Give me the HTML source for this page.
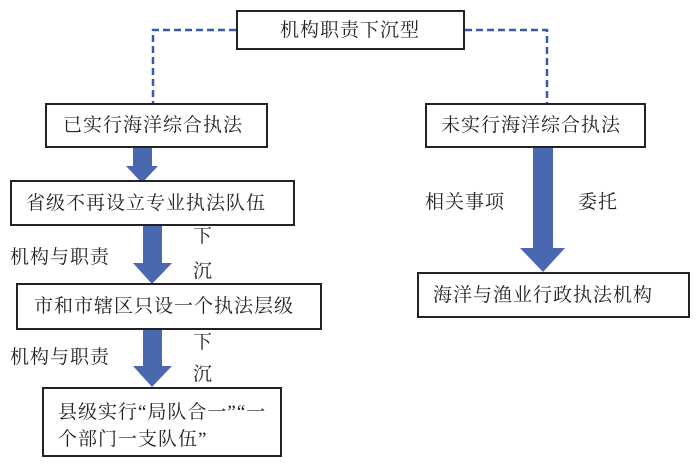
<!DOCTYPE html>
<html><head><meta charset="utf-8"><style>
body{margin:0;width:700px;height:467px;background:#fff;position:relative;overflow:hidden;font-family:"Liberation Serif","Noto Serif CJK SC",serif;color:#222}
.b{position:absolute;border:2px solid #222;box-sizing:border-box;background:#fff;font-size:19px;letter-spacing:1px;line-height:22px}
.t{position:absolute;font-size:19px;letter-spacing:1px;line-height:20px;white-space:nowrap}
svg{position:absolute;left:0;top:0}
</style></head><body>
<svg width="700" height="467">
<path d="M236 30 H153 V103" fill="none" stroke="#3a5aa8" stroke-width="2.5" stroke-dasharray="7,4"/>
<path d="M465 30 H547 V103" fill="none" stroke="#3a5aa8" stroke-width="2.5" stroke-dasharray="7,4"/>
<g fill="#4a68b0">
<polygon points="133,148 152,148 152,166 158,166 142,183 126,166 133,166"/>
<polygon points="143,226 162,226 162,263 172,263 152,284 133,263 143,263"/>
<polygon points="143,330 162,330 162,366 172,366 152,387 133,366 143,366"/>
<polygon points="533,148 553,148 553,248 565,248 543,272 520,248 533,248"/>
</g>
</svg>
<div class="b" style="left:236px;top:10px;width:229px;height:40px;padding:8px 0 0 42px">机构职责下沉型</div>
<div class="b" style="left:45px;top:103px;width:223px;height:45px;padding:10px 0 0 16px">已实行海洋综合执法</div>
<div class="b" style="left:425px;top:103px;width:221px;height:45px;padding:10px 0 0 14px">未实行海洋综合执法</div>
<div class="b" style="left:10px;top:180px;width:285px;height:46px;padding:11px 0 0 14px">省级不再设立专业执法队伍</div>
<div class="b" style="left:16px;top:283px;width:306px;height:47px;padding:11px 0 0 16px">市和市辖区只设一个执法层级</div>
<div class="b" style="left:42px;top:387px;width:240px;height:70px;padding:10px 0 0 14px;line-height:27px">县级实行“局队合一”“一<br>个部门一支队伍”</div>
<div class="b" style="left:417px;top:272px;width:273px;height:46px;padding:11px 0 0 14px">海洋与渔业行政执法机构</div>
<div class="t" style="left:10px;top:248px">机构与职责</div>
<div class="t" style="left:10px;top:348px">机构与职责</div>
<div class="t" style="left:193px;top:227px">下</div>
<div class="t" style="left:193px;top:262px">沉</div>
<div class="t" style="left:193px;top:333px">下</div>
<div class="t" style="left:193px;top:365px">沉</div>
<div class="t" style="left:425px;top:193px">相关事项</div>
<div class="t" style="left:578px;top:193px">委托</div>
</body></html>
